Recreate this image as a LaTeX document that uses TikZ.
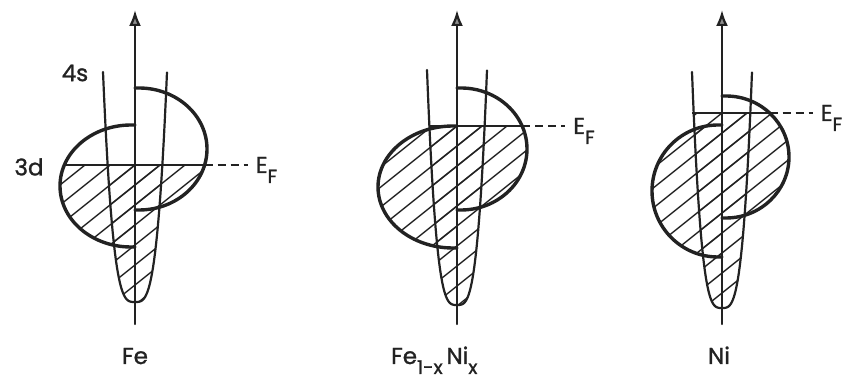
\documentclass[tikz,border=0pt]{standalone}
\usepackage{fontspec}
\setmainfont{Poppins}[FakeBold=1.2]
\usetikzlibrary{calc,arrows.meta}

\definecolor{ink}{HTML}{222222}
\newcommand{\lowsub}[1]{\raisebox{-10pt}{\fontsize{19}{19}\selectfont #1}}

\tikzset{
  bandline/.style={draw=ink, line width=3.4pt, line cap=round, line join=round},
  axisline/.style={draw=ink, line width=2.2pt, line cap=round},
  hatchline/.style={draw=ink, line width=1.4pt},
  level/.style={draw=ink, line width=1.8pt},
  lbl/.style={font=\fontsize{23}{26}\selectfont, text=ink, inner sep=0pt}
}

\begin{document}
\begin{tikzpicture}[x=1pt,y=1pt]

% --- Page frame (852 x 383) ---
\fill[white] (0,0) rectangle (852,383);
\useasboundingbox (0,0) rectangle (852,383);

\def\f{4}   % flat part of each 3d half next to the axis

% --- One panel per metal: axis, 4s band, two 3d halves, Fermi level ---
% ax/4s bottom/4s height/4s half width/left 3d centre/half height/width/
% right 3d centre/half height/width/E_F/start of E_F line/name
\foreach \ax/\pb/\ph/\pw/\lc/\lh/\lw/\rc/\rh/\rw/\ef/\efa/\id in {
  135/81/230/32/197/61/75/234/61/72/218/63/fe,
  457/78/235/30/196/61/79/234/61/70/257/430/feni,
  722/75/236/30/192/66/70/226/61/67/270/692/ni}{

  \def\lhalf{(\ax,\lc+\lh) -- (\ax-\f,\lc+\lh)
    arc[start angle=90, end angle=270, x radius=\lw-\f, y radius=\lh]
    -- (\ax,\lc-\lh)}
  \def\rhalf{(\ax,\rc+\rh) -- (\ax+\f,\rc+\rh)
    arc[start angle=90, end angle=-90, x radius=\rw-\f, y radius=\rh]
    -- (\ax,\rc-\rh)}
  \def\band{plot[domain=-1:1, samples=60, variable=\u]
    ({\ax+\pw*\u},{\pb+\ph*pow(abs(\u),3.3)})}

  % filled states below E_F
  \foreach \shp in {\lhalf,\rhalf,\band}{
    \begin{scope}
      \clip (\ax-110,0) rectangle (\ax+110,\ef);
      \clip \shp -- cycle;
      \foreach \k in {-4,...,16}
        \draw[hatchline] ({\ax+\k*25-300},{\ef-240}) -- ({\ax+\k*25},\ef);
    \end{scope}
  }

  % outlines
  \draw[axisline] \band;
  \draw[bandline] \lhalf;
  \draw[bandline] \rhalf;

  % energy axis
  \coordinate (bot-\id) at (\ax,59);
  \coordinate (tip-\id) at (\ax,373);
  \draw[axisline, -{Latex[length=16pt, width=12pt, fill=ink!50]}]
    (bot-\id) -- (tip-\id);

  % Fermi level
  \coordinate (efa-\id) at (\efa,\ef);
  \coordinate (efb-\id) at ({\ax+\f+(\rw-\f)*sqrt(1-((\ef-\rc)/\rh)^2)},\ef);
  \node[lbl, anchor=base west] (ef-\id) at ($(efb-\id)+(51,-8)$) {E\lowsub{F}};
  \draw[level] (efa-\id) -- (efb-\id);
  \draw[level, dash pattern=on 8pt off 5pt]
    (efb-\id) -- ([xshift=-8pt, yshift=8pt]ef-\id.base west);
}

% --- Band names (left panel only) ---
\node[lbl] (s4) at (75,310) {4s};
\node[lbl] (d3) at (29,216) {3d};

% --- Metals under the panels ---
\node[lbl, anchor=base] (fe) at (135,19) {Fe};
\node[lbl, anchor=base west] (feni) at (391,19) {Fe\lowsub{1-x}\,Ni\lowsub{x}};
\node[lbl, anchor=base] (ni) at (719,19) {Ni};

\end{tikzpicture}
\end{document}
